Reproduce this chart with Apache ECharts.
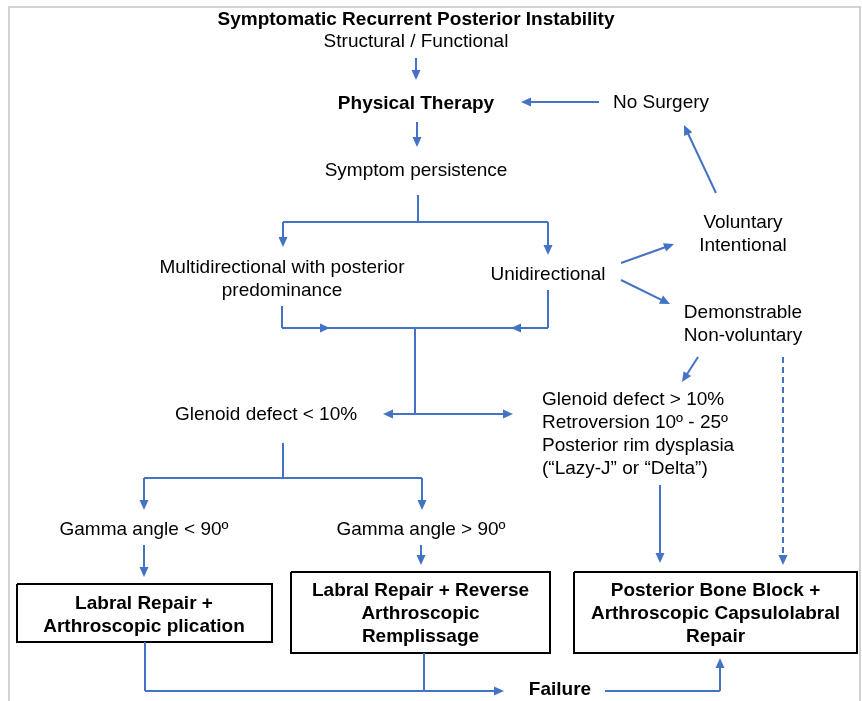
<!DOCTYPE html>
<html>
<head>
<meta charset="UTF-8">
<title>Posterior instability flowchart</title>
<script src="https://cdn.jsdelivr.net/npm/echarts@6/dist/echarts.min.js"></script>
<style>
    html, body { margin: 0; padding: 0; background: #fff; }
    #main { width: 862px; height: 701px; }
</style>
</head>
<body>
<div id="main"></div>
<script type="text/javascript">

    // texts of the flowchart nodes
    var nodeText = [
        'Symptomatic Recurrent Posterior Instability',
        'Structural / Functional',
        'Physical Therapy',
        'No Surgery',
        'Symptom persistence',
        'Multidirectional with posterior\npredominance',
        'Unidirectional',
        'Voluntary\nIntentional',
        'Demonstrable\nNon-voluntary',
        'Glenoid defect < 10%',
        'Glenoid defect > 10%\nRetroversion 10º - 25º\nPosterior rim dysplasia\n(“Lazy-J” or “Delta”)',
        'Gamma angle < 90º',
        'Gamma angle > 90º',
        'Labral Repair +\nArthroscopic plication',
        'Labral Repair + Reverse\nArthroscopic\nRemplissage',
        'Posterior Bone Block +\nArthroscopic Capsulolabral\nRepair',
        'Failure'
    ];

    // layout: x, y (centre), anchor ('c' centred / 'l' left), bold
    var nodeLayout = [
        [416, 19.5, 'c', 1],
        [416, 41.5, 'c', 0],
        [416, 103.5, 'c', 1],
        [661, 102.5, 'c', 0],
        [416, 170.5, 'c', 0],
        [282, 279, 'c', 0],
        [548, 274.5, 'c', 0],
        [743, 234, 'c', 0],
        [743, 324, 'c', 0],
        [266, 414.5, 'c', 0],
        [542, 434.5, 'l', 0],
        [144, 529.5, 'c', 0],
        [421, 529.5, 'c', 0],
        [144, 615, 'c', 1],
        [420.5, 614, 'c', 1],
        [715.5, 614, 'c', 1],
        [560, 690, 'c', 1]
    ];

    // result boxes: x0, y0, x1, y1
    var boxRects = [
        [17, 584, 272, 642],
        [291, 572, 550, 653],
        [574, 572, 857, 653]
    ];

    // connectors without a head
    var plainLinks = [
        [418, 195, 418, 222],
        [283, 222, 548, 222],
        [282, 306, 282, 328],
        [282, 328, 548, 328],
        [548, 290, 548, 328],
        [415, 328, 415, 414],
        [283, 443, 283, 478],
        [144, 478, 422, 478],
        [145, 642, 145, 691],
        [424, 653, 424, 691],
        [605, 691, 720, 691]
    ];

    // connectors ending in an arrow head (end = tip)
    var arrowLinks = [
        [416, 58, 416, 80],
        [599, 102, 521, 102],
        [417, 122, 417, 147],
        [283, 222, 283, 247],
        [548, 222, 548, 255],
        [716, 193, 684, 125],
        [621, 263, 674, 244],
        [621, 280, 670, 304],
        [300, 328, 330, 328],
        [530, 328, 511, 328],
        [415, 414, 383, 414],
        [415, 414, 513, 414],
        [698, 357, 682, 382],
        [660, 485, 660, 563],
        [144, 478, 144, 510],
        [422, 478, 422, 510],
        [144, 545, 144, 577],
        [421, 545, 421, 565],
        [145, 691, 504, 691],
        [720, 691, 720, 658]
    ];

    var dashedLinks = [
        [783, 357, 783, 565]
    ];

    var frameLine = [[9, 701], [9, 7], [860, 7], [860, 701]];

    var BLUE = '#4472C4';
    var HEAD = 10;

    function seg(s) {
        return {coords: [[s[0], s[1]], [s[2], s[3]]]};
    }

    // pull the end back by half a head so the tip lands on the end point
    function headSeg(s) {
        var dx = s[2] - s[0], dy = s[3] - s[1];
        var len = Math.sqrt(dx * dx + dy * dy);
        var k = (len - HEAD / 2) / len;
        return {coords: [[s[0], s[1]], [s[0] + dx * k, s[1] + dy * k]]};
    }

    var boxData = boxRects.map(function (r) {
        return {coords: [[r[0], r[1]], [r[2], r[1]], [r[2], r[3]], [r[0], r[3]], [r[0], r[1]]]};
    });

    var textData = nodeText.map(function (t, i) {
        var l = nodeLayout[i];
        return {
            name: t,
            value: [l[0], l[1]],
            label: {
                position: l[2] === 'l' ? 'right' : 'inside',
                distance: 0,
                align: l[2] === 'l' ? 'left' : 'center',
                fontWeight: l[3] ? 'bold' : 'normal'
            }
        };
    });

    var myChart = echarts.init(document.getElementById('main'));
    myChart.setOption({
        animation: false,
        grid: {left: 0, right: 0, top: 0, bottom: 0},
        xAxis: {type: 'value', min: 0, max: 862, show: false},
        yAxis: {type: 'value', min: 0, max: 701, inverse: true, show: false},
        series: [{
            type: 'lines',
            coordinateSystem: 'cartesian2d',
            polyline: true,
            silent: true,
            lineStyle: {color: '#c4c4c4', width: 1.5, opacity: 1},
            data: [{coords: frameLine}]
        }, {
            type: 'lines',
            coordinateSystem: 'cartesian2d',
            polyline: true,
            silent: true,
            lineStyle: {color: '#000', width: 2, opacity: 1, join: 'miter'},
            data: boxData
        }, {
            type: 'lines',
            coordinateSystem: 'cartesian2d',
            silent: true,
            lineStyle: {color: BLUE, width: 2, opacity: 1},
            data: plainLinks.map(seg)
        }, {
            type: 'lines',
            coordinateSystem: 'cartesian2d',
            silent: true,
            symbol: ['none', 'triangle'],
            symbolSize: [[9, HEAD], [9, HEAD]],
            lineStyle: {color: BLUE, width: 2, opacity: 1},
            data: arrowLinks.map(headSeg)
        }, {
            type: 'lines',
            coordinateSystem: 'cartesian2d',
            silent: true,
            symbol: ['none', 'triangle'],
            symbolSize: [[9, HEAD], [9, HEAD]],
            lineStyle: {color: BLUE, width: 2, opacity: 1, type: [6, 4]},
            data: dashedLinks.map(headSeg)
        }, {
            type: 'scatter',
            silent: true,
            symbolSize: 0,
            itemStyle: {opacity: 1},
            label: {
                show: true,
                formatter: '{b}',
                color: '#000',
                opacity: 1,
                fontFamily: 'Liberation Sans, Arial, sans-serif',
                fontSize: 19,
                lineHeight: 23
            },
            data: textData
        }]
    });

</script>
</body>
</html>
